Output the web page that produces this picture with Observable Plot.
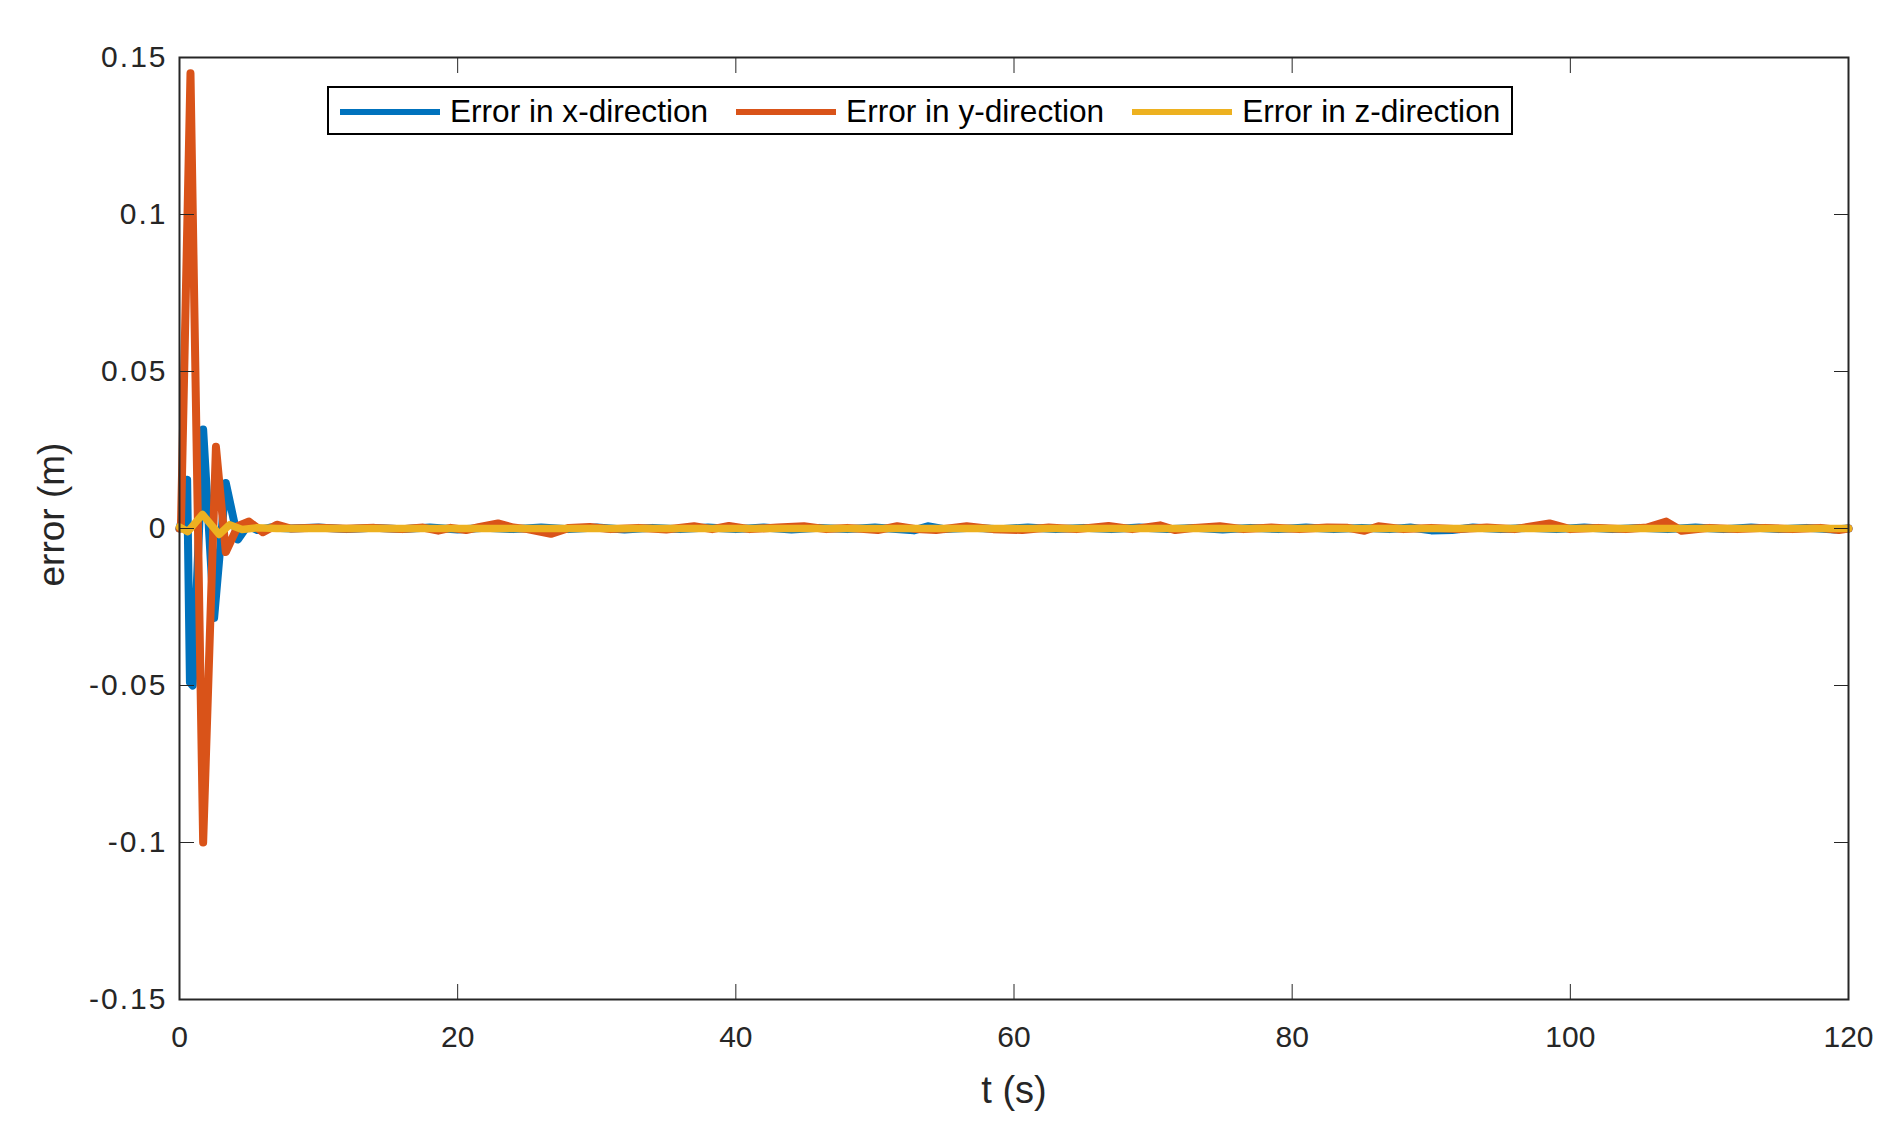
<!DOCTYPE html>
<html>
<head>
<meta charset="utf-8">
<script src="https://cdn.jsdelivr.net/npm/d3@7"></script>
<script src="https://cdn.jsdelivr.net/npm/@observablehq/plot@0.6"></script>
<style>
  html, body { margin: 0; padding: 0; background: #fff; }
  #wrap { position: relative; width: 1899px; height: 1139px; font-family: "Liberation Sans", Arial, sans-serif; }
  #legend { position: absolute; left: 327px; top: 86px; width: 1186px; height: 49px; box-sizing: border-box;
            border: 2px solid #000; background: #fff; display: flex; align-items: center; padding-left: 11px; padding-top: 2px;
            font-family: "Liberation Sans", Arial, sans-serif; font-size: 31.6px; color: #000; white-space: nowrap; overflow: hidden; }
  #legend .item { display: flex; align-items: center; margin-right: 28px; flex-shrink: 0; white-space: nowrap; }
  #legend .sw { width: 100px; height: 6px; margin-right: 10px; flex-shrink: 0; }
  g[aria-label="y-axis tick label"] text { letter-spacing: 2px; }
</style>
</head>
<body>
<div id="wrap"><div id="legend"></div></div>
<script>
// ---- data ----
const seriesNames = ["Error in x-direction", "Error in y-direction", "Error in z-direction"];
const seriesColors = ["#0072BD", "#D95319", "#EDB120"];
const xTicks = [0, 20, 40, 60, 80, 100, 120];
const yTicks = [-0.15, -0.1, -0.05, 0, 0.05, 0.1, 0.15];
const xLabel = "t (s)";
const yLabel = "error (m)";

// Error in x-direction
const tX = [0, 0.3, 0.55, 0.75, 0.95, 1.7, 2.49, 3.33, 4.2, 4.9, 5.6, 6.5, 8,
  10, 12, 14, 16, 18, 20, 22, 24, 26, 28, 30, 32, 34, 36, 38, 40, 42, 44, 46, 48, 50,
  52.8, 53.8, 55, 57, 59, 61, 63, 65, 67, 69, 71, 73, 75, 77, 79, 81, 83, 85, 87, 88.5,
  90, 91.5, 93, 95, 97, 99, 101, 103, 105, 107, 109, 111, 113, 115, 117, 119, 120];
const eX = [0, 0.005, 0.0155, -0.049, -0.05, 0.0315, -0.0285, 0.0145, -0.0035, 0.001, -0.0005, 0.0003, 0,
  0.0003, -0.0002, 0.0002, -0.0002, 0.0003, -0.0003, 0.0002, -0.0002, 0.0003, -0.0002, 0.0003, -0.0003, 0.0002, -0.0002, 0.0003, -0.0002, 0.0003, -0.0003, 0.0002, -0.0002, 0.0003,
  -0.0006, 0.0007, -0.0002, 0.0002, -0.0002, 0.0003, -0.0002, 0.0002, -0.0002, 0.0003, -0.0002, 0.0002, -0.0003, 0.0002, -0.0002, 0.0003, -0.0002, 0.0002, -0.0002, 0.0003,
  -0.0006, -0.0005, 0.0003, -0.0002, 0.0002, -0.0002, 0.0003, -0.0002, 0.0002, -0.0002, 0.0003, -0.0002, 0.0003, -0.0002, 0.0002, -0.0003, 0];

// Error in y-direction
const tY = [0, 0.1, 0.79, 1.7, 2.62, 3.33, 4.2, 5.0, 6.0, 7.0, 8,
  10, 12, 14, 16, 17.5, 18.6, 19.5, 20.6, 21.5, 22.9, 24, 25, 26.7, 28, 29.5, 31, 33, 35, 37, 38.3, 39.5,
  41, 43, 44.9, 46.5, 48, 50.2, 51.6, 53, 54.4, 56.6, 58.5, 60.6, 62.5, 64.5, 66.8, 68.5, 70.5, 71.6,
  73, 74.8, 76.5, 78.5, 80.5, 82.5, 84, 85.2, 86.2, 88, 90, 92, 94, 96, 98.5, 100, 102, 104, 105.5,
  106.9, 108, 110, 112, 114, 116, 118, 119.3, 120];
const eY = [0, 0, 0.145, -0.1, 0.026, -0.0075, 0.0008, 0.0022, -0.0012, 0.0012, 0,
  0.0002, -0.0001, 0.0002, -0.0002, 0.0003, -0.0007, 0.0002, -0.0005, 0.0004, 0.0016, 0.0003, -0.0002, -0.0017, 0.0002, 0.0005, -0.0002, 0.0002, -0.0003, 0.0007, -0.0002, 0.0008,
  -0.0002, 0.0003, 0.0007, -0.0002, 0.0002, -0.0005, 0.0007, -0.0002, -0.0005, 0.0007, -0.0002, -0.0005, 0.0003, -0.0002, 0.0008, -0.0002, 0.001, -0.0005,
  0.0002, 0.0007, -0.0002, 0.0003, -0.0002, 0.0003, 0.0002, -0.0007, 0.0007, -0.0002, 0.0002, -0.0002, 0.0003, -0.0002, 0.0016, -0.0002, 0.0002, -0.0002, 0.0003,
  0.0022, -0.0007, 0.0002, -0.0002, 0.0002, -0.0002, 0.0002, -0.0005, 0];

// Error in z-direction
const tZ = [0, 0.6, 1.65, 2.85, 3.6, 4.5, 5.5, 7, 120];
const eZ = [0.0005, -0.001, 0.0045, -0.0019, 0.0012, -0.0003, 0.0002, 0, 0];

// ---- build rows ----
const rows = (t, e) => t.map((v, i) => ({t: v, e: e[i]}));
const dataX = rows(tX, eX), dataY = rows(tY, eY), dataZ = rows(tZ, eZ);

const axisColor = "#262626";
const chart = Plot.plot({
  width: 1899,
  height: 1139,
  marginLeft: 179,
  marginRight: 51,
  marginTop: 57,
  marginBottom: 140,
  style: {fontFamily: "Liberation Sans, Arial, sans-serif", fontSize: "30px", color: axisColor, background: "#fff"},
  x: {domain: [0, 120]},
  y: {domain: [-0.15, 0.15]},
  marks: [
    Plot.line(dataX, {x: "t", y: "e", stroke: seriesColors[0], strokeWidth: 8}),
    Plot.line(dataY, {x: "t", y: "e", stroke: seriesColors[1], strokeWidth: 8}),
    Plot.line(dataZ, {x: "t", y: "e", stroke: seriesColors[2], strokeWidth: 7.5}),
    Plot.frame({stroke: axisColor, strokeWidth: 2}),
    Plot.axisX({anchor: "bottom", ticks: xTicks, tickSize: -15, tickPadding: 41, tickFormat: d => String(d), fontSize: 30, label: null}),
    Plot.axisX({anchor: "top", ticks: xTicks, tickSize: -15, tickFormat: () => "", label: null}),
    Plot.axisY({anchor: "left", ticks: yTicks, tickSize: -15, tickPadding: 27, tickFormat: d => String(d), fontSize: 30, label: null}),
    Plot.axisY({anchor: "right", ticks: yTicks, tickSize: -15, tickFormat: () => "", label: null}),
    Plot.text([xLabel], {text: d => d, frameAnchor: "bottom", dy: 103, fontSize: 38, fill: axisColor}),
    Plot.text([yLabel], {text: d => d, frameAnchor: "left", dx: -127, dy: 58, rotate: -90, fontSize: 37, fill: axisColor})
  ]
});
document.getElementById("wrap").prepend(chart);

// legend
const legend = document.getElementById("legend");
seriesNames.forEach((name, i) => {
  const item = document.createElement("div");
  item.className = "item";
  const sw = document.createElement("span");
  sw.className = "sw";
  sw.style.background = seriesColors[i];
  const label = document.createElement("span");
  label.textContent = name;
  item.append(sw, label);
  legend.append(item);
});
</script>
</body>
</html>
